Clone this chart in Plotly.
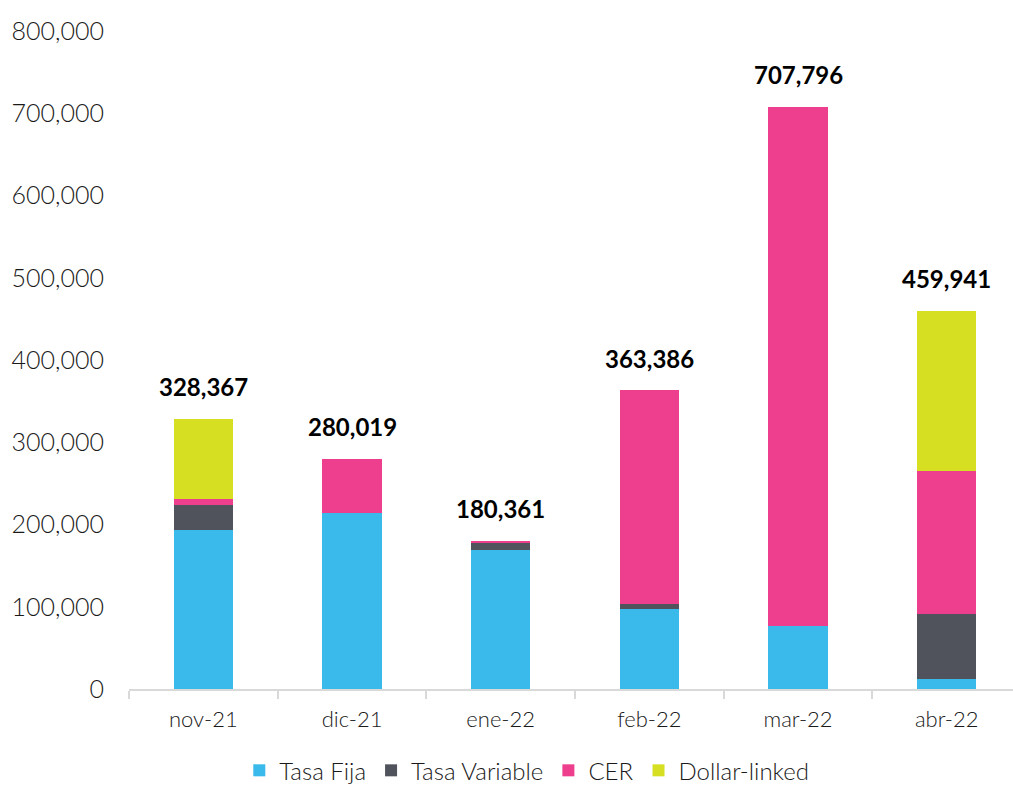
import plotly.graph_objects as go

categories = ["nov-21", "dic-21", "ene-22", "feb-22", "mar-22", "abr-22"]
tasa_fija = [193400, 213700, 168700, 97700, 76600, 12200]
tasa_variable = [30800, 0, 9300, 6100, 0, 78700]
cer = [6600, 66319, 2361, 259586, 631196, 173900]
dollar_linked = [97567, 0, 0, 0, 0, 195141]
totals = [328367, 280019, 180361, 363386, 707796, 459941]

series = [
    ("Tasa Fija", tasa_fija, "#39BAEA"),
    ("Tasa Variable", tasa_variable, "#50535C"),
    ("CER", cer, "#EE3E8E"),
    ("Dollar-linked", dollar_linked, "#D6DF22"),
]

FONT = "Lato"
TXT = "#1a1a1a"

fig = go.Figure()
for name, vals, color in series:
    fig.add_trace(go.Bar(
        x=categories, y=vals, name=name,
        marker=dict(color=color, line=dict(width=0)),
        hoverinfo="skip",
    ))

for c, t in zip(categories, totals):
    fig.add_annotation(
        x=c, y=t, xref="x", yref="y", text=f"<b>{t:,}</b>",
        showarrow=False, yshift=32,
        font=dict(family=FONT, size=24, color="#000000"),
    )

fig.update_layout(
    width=1013, height=787,
    barmode="stack", bargap=0.6,
    plot_bgcolor="white", paper_bgcolor="white",
    margin=dict(l=129, r=0, t=31, b=98, autoexpand=False),
    font=dict(family=FONT, size=22, color=TXT),
    showlegend=True,
    legend=dict(
        orientation="h", x=0.45, xanchor="center", y=-0.09, yanchor="top",
        font=dict(family=FONT, size=24, color=TXT, weight=300),
        itemwidth=30, tracegroupgap=0, traceorder="normal",
    ),
)

fig.update_xaxes(
    type="category",
    range=[-0.5, 5.446],
    showline=True, linecolor="#d9d9d9", linewidth=2,
    ticks="outside", tickson="boundaries", ticklen=8, tickcolor="#d9d9d9", tickwidth=2,
    showgrid=False, zeroline=False, ticklabelstandoff=10,
    tickfont=dict(family=FONT, size=22, color=TXT, weight=300),
)
fig.update_yaxes(
    range=[0, 800000], dtick=100000, tickformat=",",
    showgrid=False, zeroline=False, showline=False,
    ticks="", ticklabelstandoff=24,
    tickfont=dict(family=FONT, size=25, color=TXT, weight=300),
)

fig.write_html("out.html")
